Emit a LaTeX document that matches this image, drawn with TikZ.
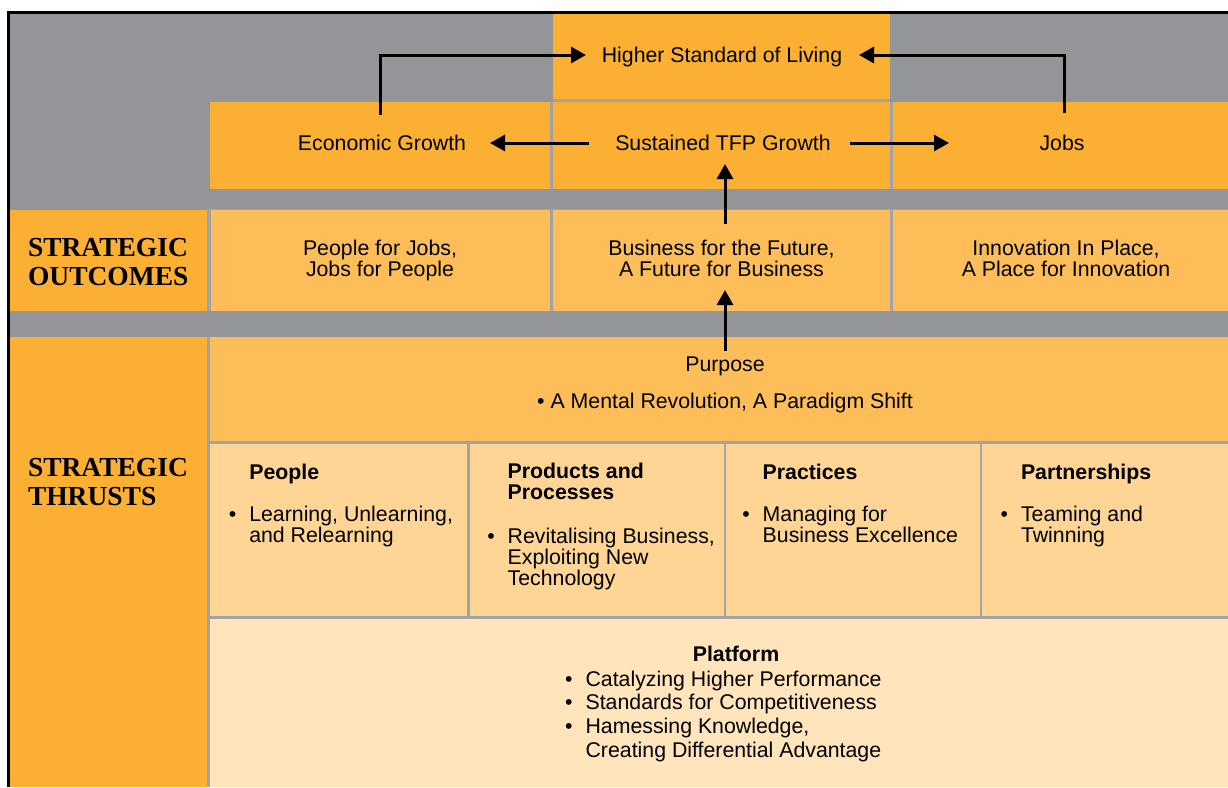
\documentclass[tikz,border=0pt]{standalone}
\usepackage{fontspec}
\setmainfont{Liberation Sans}
\newfontfamily\capsfont{Liberation Serif}
\usetikzlibrary{arrows.meta}
\definecolor{bggrey}{HTML}{939598}
\definecolor{sepgrey}{HTML}{A2A3A6}
\definecolor{orangeD}{HTML}{FBB034}
\definecolor{orangeM}{HTML}{FDBE5A}
\definecolor{peach}{HTML}{FED594}
\definecolor{cream}{HTML}{FFE4BC}
\newcommand{\cellat}[6]{\node[cellbox,fill=#2,minimum width={#5pt-#3pt},minimum height={#6pt-#4pt}] (#1) at (#3,#4) {};}
\newcommand{\bul}{\llap{\textbullet\hspace{13pt}}}
\begin{document}
\begin{tikzpicture}[x=1pt,y=-1pt,
  cellbox/.style={draw=none,inner sep=0pt,outer sep=0pt,anchor=north west,rectangle},
  txt/.style={inner sep=0pt,outer sep=0pt,text=black,font=\fontsize{21.3pt}{21pt}\selectfont},
  ptxt/.style={txt,font=\fontsize{21.3pt}{23.7pt}\selectfont},
  lbl/.style={inner sep=0pt,outer sep=0pt,text=black,align=left,anchor=base west,
    font=\capsfont\bfseries\fontsize{27.5pt}{29pt}\selectfont},
  arr/.style={line width=3pt,draw=black,-{Triangle[length=15pt,width=16pt]}}]
\useasboundingbox (0,0) rectangle (1228,787);
\fill[white] (0,0) rectangle (1228,787);
% background
\fill[bggrey] (8,12) rectangle (1228,787);
\draw[line width=3pt,black] (8.3,787) -- (8.3,12.2) -- (1228,12.2);
% separator backings
\fill[sepgrey] (553,99) rectangle (890,102);
\fill[sepgrey] (210,102) rectangle (1228,189);
\fill[sepgrey] (207,209) rectangle (1228,311);
\fill[sepgrey] (207,337) rectangle (1228,787);
% top cells
\cellat{hsl}{orangeD}{553}{13.7}{890}{99}
\cellat{eco}{orangeD}{210}{102}{550}{189}
\cellat{tfp}{orangeD}{553}{102}{890}{189}
\cellat{jobs}{orangeD}{893}{102}{1228}{189}
% outcomes row
\cellat{outlbl}{orangeD}{9.8}{210}{207}{311}
\cellat{pj}{orangeM}{210.5}{210}{550}{311}
\cellat{bf}{orangeM}{553}{210}{890}{311}
\cellat{ip}{orangeM}{893}{210}{1228}{311}
% thrusts
\cellat{thrlbl}{orangeD}{9.8}{337}{207}{787}
\cellat{purp}{orangeM}{210}{337}{1228}{441}
\cellat{c1}{peach}{210}{443.5}{467}{616}
\cellat{c2}{peach}{469.5}{443.5}{723.5}{616}
\cellat{c3}{peach}{726}{443.5}{979.5}{616}
\cellat{c4}{peach}{982}{443.5}{1228}{616}
\cellat{plat}{cream}{210}{618.7}{1228}{787}
% texts (multi-line nodes: base = last line)
\node[txt,anchor=base] (hslT) at (722,62) {Higher Standard of Living};
\node[txt,anchor=base] (ecoT) at (382,150) {Economic Growth};
\node[txt,anchor=base] (tfpT) at (723,150) {Sustained TFP Growth};
\node[txt,anchor=base] (jobsT) at (1062,150) {Jobs};
\node[txt,anchor=base,align=center] (pjT) at (380,276) {People for Jobs,\\Jobs for People};
\node[txt,anchor=base,align=center] (bfT) at (721.5,276) {Business for the Future,\\A Future for Business};
\node[txt,anchor=base,align=center] (ipT) at (1066,276) {Innovation In Place,\\A Place for Innovation};
\node[lbl] (outL) at (28,285) {STRATEGIC\\OUTCOMES};
\node[lbl] (thrL) at (28,505) {STRATEGIC\\THRUSTS};
\node[txt,anchor=base] (purpT) at (725,371.7) {Purpose};
\node[txt,anchor=base] (purpB) at (725,408) {\textbullet\ A Mental Revolution, A Paradigm Shift};
% thrust cells
\node[txt,anchor=base west,align=left] (c1T) at (249.3,479) {\textbf{People}};
\node[txt,anchor=base west,align=left] (c1B) at (249.3,542.7) {\bul Learning, Unlearning,\\and Relearning};
\node[txt,anchor=base west,align=left] (c2T) at (507.7,499.3) {\textbf{Products and}\\\textbf{Processes}};
\node[txt,anchor=base west,align=left] (c2B) at (507.7,585) {\bul Revitalising Business,\\Exploiting New\\Technology};
\node[txt,anchor=base west,align=left] (c3T) at (762.7,479) {\textbf{Practices}};
\node[txt,anchor=base west,align=left] (c3B) at (762.7,542.7) {\bul Managing for\\Business Excellence};
\node[txt,anchor=base west,align=left] (c4T) at (1021,479) {\textbf{Partnerships}};
\node[txt,anchor=base west,align=left] (c4B) at (1021,542.7) {\bul Teaming and\\Twinning};
% platform
\node[txt,anchor=base] (platT) at (736,661.7) {\textbf{Platform}};
\node[ptxt,anchor=base west,align=left] (platB) at (585.6,757.3) {\bul Catalyzing Higher Performance\\\bul Standards for Competitiveness\\\bul Hamessing Knowledge,\\Creating Differential Advantage};
% arrow end points
\coordinate (a1s) at (589,143);
\coordinate (a1e) at (490,143);
\coordinate (a2s) at (850,143);
\coordinate (a2e) at (949,143);
\coordinate (a3s) at (725,224);
\coordinate (a3e) at (725,164);
\coordinate (a4s) at (725,351);
\coordinate (a4e) at (725,290);
\coordinate (a5s) at (380.7,115);
\coordinate (a5e) at (586,55);
\coordinate (a6s) at (1064,113);
\coordinate (a6e) at (859,55);
\draw[arr] (a1s) -- (a1e);
\draw[arr] (a2s) -- (a2e);
\draw[arr] (a3s) -- (a3e);
\draw[arr] (a4s) -- (a4e);
\draw[arr] (a5s) |- (a5e);
\draw[arr] (a6s) |- (a6e);
\end{tikzpicture}
\end{document}
